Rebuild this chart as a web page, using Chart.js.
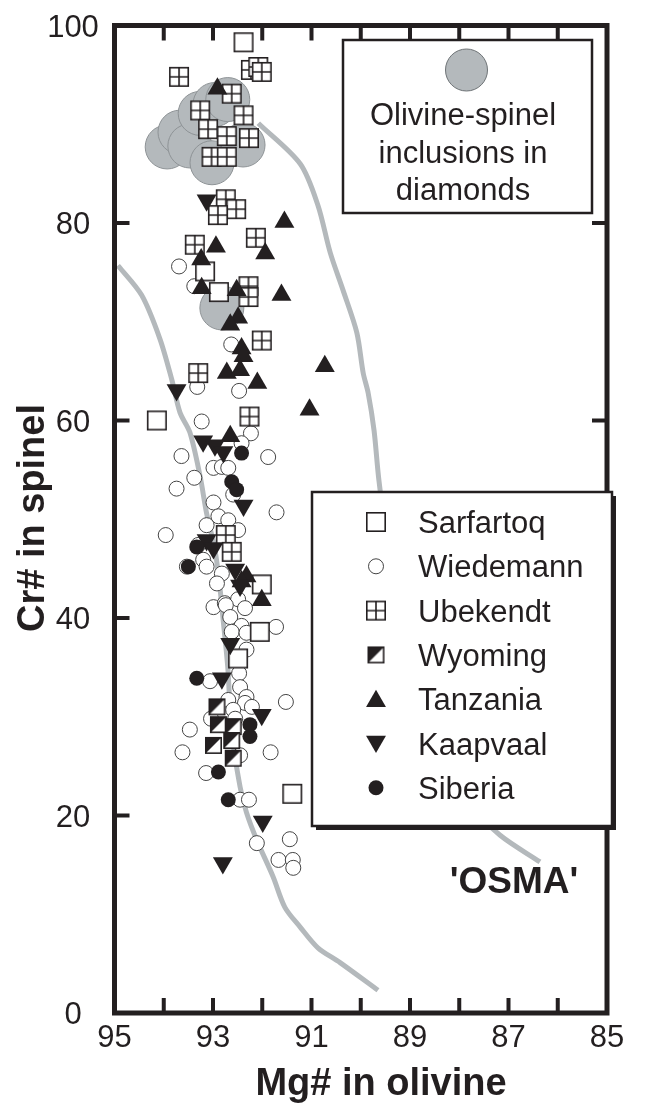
<!DOCTYPE html>
<html>
<head>
<meta charset="utf-8">
<title>Cr# in spinel vs Mg# in olivine</title>
<script src="https://cdn.jsdelivr.net/npm/chart.js"></script>
<style>
  html, body { margin: 0; padding: 0; background: #fff; }
  #wrap { width: 647px; height: 1106px; }
</style>
</head>
<body>
<div id="wrap"><canvas id="chart" width="647" height="1106"></canvas></div>
<script>
    // Values: [Mg# in olivine, Cr# in spinel]
    const sarfartoq = [
      [92.38, 98.3], [93.16, 75.1], [92.88, 73.0], [94.14, 60.0], [92.01, 43.4],
      [92.05, 38.6], [92.49, 35.9], [91.39, 22.2]
    ];
    const wiedemann = [
      [93.69, 75.6], [93.38, 73.6], [92.63, 67.7], [92.47, 63.0], [93.32, 63.4],
      [93.23, 59.9], [92.23, 58.7], [92.42, 57.7], [93.64, 56.4], [91.88, 56.3],
      [92.99, 55.2], [92.82, 55.3], [92.69, 55.2], [93.38, 54.2], [93.74, 53.1],
      [92.59, 52.5], [92.99, 51.7], [91.71, 50.7], [92.89, 50.3], [92.69, 49.9],
      [93.13, 49.4], [92.49, 48.9], [93.96, 48.4], [93.30, 47.4], [93.20, 45.9],
      [93.53, 45.2], [93.13, 45.2], [92.82, 44.5], [92.92, 43.5], [92.99, 41.1],
      [92.76, 41.5], [92.49, 41.9], [92.35, 41.0], [92.74, 41.3], [92.65, 40.1],
      [92.42, 39.2], [91.72, 39.1], [92.62, 38.6], [92.32, 38.5], [92.32, 36.8],
      [92.47, 34.4], [93.06, 33.6], [92.45, 33.0], [92.32, 32.0], [92.69, 31.7],
      [91.52, 31.5], [92.35, 31.4], [92.21, 31.0], [92.59, 30.7], [93.04, 29.8],
      [92.55, 29.8], [93.47, 28.7], [93.62, 26.4], [91.83, 26.4], [92.45, 26.1],
      [93.14, 24.3], [92.45, 21.6], [92.27, 21.6], [92.11, 17.2], [91.44, 17.6],
      [91.67, 15.5], [91.38, 15.5], [91.37, 14.7]
    ];
    const ubekendt = [
      [93.69, 94.8], [92.23, 95.5], [92.08, 95.8], [92.01, 95.3], [92.62, 93.1],
      [93.26, 91.4], [92.38, 90.9], [93.10, 89.5], [92.72, 88.8], [92.27, 88.6],
      [93.03, 86.7], [92.72, 86.7], [92.74, 82.4], [92.53, 81.4], [92.90, 80.8],
      [92.13, 78.5], [93.37, 77.8], [92.28, 73.6], [92.28, 72.5], [92.01, 68.1],
      [93.30, 64.8], [92.26, 60.4], [92.74, 48.4], [92.62, 46.7]
    ];
    const wyoming = [
      [92.92, 31.0], [92.89, 29.2], [92.59, 29.0], [92.99, 27.1], [92.62, 27.6],
      [92.59, 25.8]
    ];
    const tanzania = [
      [92.91, 93.6], [91.55, 80.1], [92.94, 77.6], [91.94, 76.9], [93.24, 76.3],
      [91.61, 72.7], [92.52, 73.2], [93.23, 73.4], [92.49, 70.4], [92.65, 69.7],
      [92.42, 67.3], [92.38, 66.5], [90.73, 65.5], [92.72, 64.8], [92.45, 65.1],
      [92.10, 63.8], [91.04, 61.1], [92.65, 58.4], [92.32, 44.2], [92.42, 43.7],
      [92.01, 41.8]
    ];
    const kaapvaal = [
      [93.13, 82.3], [93.74, 63.1], [93.20, 57.9], [92.96, 57.5], [92.79, 56.8],
      [92.38, 51.4], [93.13, 47.9], [92.99, 47.1], [92.55, 44.9], [92.45, 43.3],
      [92.65, 37.4], [92.82, 33.9], [92.01, 30.2], [91.99, 19.4], [92.80, 15.2]
    ];
    const siberia = [
      [92.42, 56.7], [92.62, 53.8], [92.52, 53.0], [93.33, 47.2], [93.50, 45.2],
      [93.33, 33.9], [92.25, 29.2], [92.25, 28.0], [92.89, 24.4], [92.69, 21.6]
    ];
    const inclusions = [
      [93.93, 87.7], [93.67, 89.2], [93.47, 87.8], [93.26, 91.1], [92.96, 92.0],
      [92.70, 92.5], [93.02, 86.1], [92.39, 87.9], [92.82, 71.4]
    ];
    // grey trend lines
    const leftCurve = [
      [94.93, 75.7], [94.45, 72.7], [94.08, 68.3], [93.84, 64.2], [93.67, 60.8],
      [93.47, 58.8], [93.26, 54.3], [93.13, 50.6], [92.96, 46.9], [92.86, 43.1],
      [92.80, 40.1], [92.70, 35.0], [92.62, 28.4], [92.45, 22.9], [92.32, 20.3],
      [92.11, 17.5], [91.78, 13.8], [91.54, 10.7], [91.23, 8.7], [90.87, 6.6],
      [90.42, 5.1], [89.65, 2.3]
    ];
    const osmaCurve = [
      [92.08, 90.1], [91.23, 86.0], [90.87, 81.8], [90.62, 77.0], [90.36, 73.2],
      [90.08, 68.9], [89.95, 64.8], [89.85, 62.8], [89.73, 59.0], [89.63, 53.9],
      [89.30, 41.8], [88.59, 27.6], [87.78, 21.1], [87.17, 18.0], [86.36, 15.3]
    ];
    const xTicks = [95, 93, 91, 89, 87, 85];
    const yTicks = [0, 20, 40, 60, 80, 100];
    const seriesNames = ['Sarfartoq', 'Wiedemann', 'Ubekendt', 'Wyoming', 'Tanzania', 'Kaapvaal', 'Siberia'];
    const inclusionText = ['Olivine-spinel', 'inclusions in', 'diamonds'];

    const INK = '#231f20';
    const GREY = '#b4b9bc';
    const FONT = '"Liberation Sans", Arial, Helvetica, sans-serif';

    function toPoints(arr) {
      return arr.map(p => ({ x: p[0], y: p[1] }));
    }

    // little canvases for the square markers
    function makeSquare(size, kind) {
      const c = document.createElement('canvas');
      c.width = size + 2;
      c.height = size + 2;
      const g = c.getContext('2d');
      const o = 1, s = size;
      g.fillStyle = '#fff';
      g.fillRect(o, o, s, s);
      if (kind === 'half') {
        g.fillStyle = INK;
        g.beginPath();
        g.moveTo(o, o);
        g.lineTo(o + s, o);
        g.lineTo(o, o + s);
        g.closePath();
        g.fill();
      }
      g.strokeStyle = INK;
      g.lineWidth = 1.6;
      if (kind === 'grid') {
        g.beginPath();
        g.moveTo(o + s / 2, o);
        g.lineTo(o + s / 2, o + s);
        g.moveTo(o, o + s / 2);
        g.lineTo(o + s, o + s / 2);
        g.stroke();
      }
      g.strokeRect(o + 0.8, o + 0.8, s - 1.6, s - 1.6);
      return c;
    }

    const openSquare = makeSquare(20, 'open');
    const gridSquare = makeSquare(20, 'grid');
    const halfSquare = makeSquare(17, 'half');

    function triangle(ctx, x, y, r, down) {
      const d = down ? -1 : 1;
      ctx.beginPath();
      ctx.moveTo(x, y - d * r);
      ctx.lineTo(x + r * Math.sqrt(3) / 2, y + d * r / 2);
      ctx.lineTo(x - r * Math.sqrt(3) / 2, y + d * r / 2);
      ctx.closePath();
      ctx.fillStyle = INK;
      ctx.fill();
    }

    function drawSymbol(ctx, i, x, y) {
      if (i === 0) ctx.drawImage(openSquare, x - openSquare.width / 2, y - openSquare.height / 2);
      else if (i === 1) {
        ctx.beginPath();
        ctx.arc(x, y, 7.5, 0, Math.PI * 2);
        ctx.fillStyle = '#fff';
        ctx.fill();
        ctx.lineWidth = 1;
        ctx.strokeStyle = '#444';
        ctx.stroke();
      }
      else if (i === 2) ctx.drawImage(gridSquare, x - gridSquare.width / 2, y - gridSquare.height / 2);
      else if (i === 3) ctx.drawImage(halfSquare, x - halfSquare.width / 2, y - halfSquare.height / 2);
      else if (i === 4) triangle(ctx, x, y + 2, 11.5, false);
      else if (i === 5) triangle(ctx, x, y - 2, 11.5, true);
      else {
        ctx.beginPath();
        ctx.arc(x, y, 7.5, 0, Math.PI * 2);
        ctx.fillStyle = INK;
        ctx.fill();
      }
    }

    // frame, inward ticks, labels, titles and the two legend boxes
    const framePlugin = {
      id: 'frame',
      afterDatasetsDraw(chart) {
        const { ctx, chartArea: a, scales } = chart;
        const xs = scales.x, ys = scales.y;
        ctx.save();

        ctx.strokeStyle = INK;
        ctx.lineWidth = 4;
        ctx.beginPath();
        xs.ticks.forEach(t => {
          const px = xs.getPixelForValue(t.value);
          ctx.moveTo(px, a.bottom); ctx.lineTo(px, a.bottom - 15);
          ctx.moveTo(px, a.top); ctx.lineTo(px, a.top + 15);
        });
        ys.ticks.forEach(t => {
          const py = ys.getPixelForValue(t.value);
          ctx.moveTo(a.left, py); ctx.lineTo(a.left + 15, py);
          ctx.moveTo(a.right, py); ctx.lineTo(a.right - 15, py);
        });
        ctx.stroke();
        ctx.lineWidth = 5;
        ctx.strokeRect(a.left, a.top, a.right - a.left, a.bottom - a.top);

        // tick labels
        ctx.fillStyle = INK;
        ctx.font = '31px ' + FONT;
        ctx.textAlign = 'center';
        ctx.textBaseline = 'alphabetic';
        xTicks.forEach(v => ctx.fillText(String(v), xs.getPixelForValue(v), a.bottom + 34));
        yTicks.forEach(v => ctx.fillText(String(v), 73, ys.getPixelForValue(v) + 11));

        // axis titles
        ctx.font = 'bold 38px ' + FONT;
        ctx.fillText('Mg# in olivine', 381, 1095);
        ctx.save();
        ctx.translate(44, 518);
        ctx.rotate(-Math.PI / 2);
        ctx.fillText('Cr# in spinel', 0, 0);
        ctx.restore();

        ctx.font = 'bold 37px ' + FONT;
        ctx.fillText("'OSMA'", 514, 893);

        // inclusion legend
        ctx.fillStyle = '#fff';
        ctx.fillRect(343, 40, 249, 173);
        ctx.lineWidth = 2.5;
        ctx.strokeStyle = INK;
        ctx.strokeRect(343, 40, 249, 173);
        ctx.beginPath();
        ctx.arc(466.5, 70, 21, 0, Math.PI * 2);
        ctx.fillStyle = GREY;
        ctx.fill();
        ctx.lineWidth = 1;
        ctx.strokeStyle = '#6e7376';
        ctx.stroke();
        ctx.fillStyle = INK;
        ctx.font = '31px ' + FONT;
        inclusionText.forEach((s, i) => ctx.fillText(s, 463, 125 + i * 37.5));

        // locality legend with a drop shadow
        ctx.fillStyle = INK;
        ctx.fillRect(316, 496, 300, 334);
        ctx.fillStyle = '#fff';
        ctx.fillRect(312, 492, 300, 334);
        ctx.lineWidth = 2.5;
        ctx.strokeStyle = INK;
        ctx.strokeRect(312, 492, 300, 334);
        ctx.textAlign = 'left';
        seriesNames.forEach((name, i) => {
          const base = 533 + i * 44.3;
          drawSymbol(ctx, i, 376, base - 11);
          ctx.fillStyle = INK;
          ctx.font = '31px ' + FONT;
          ctx.fillText(name, 418, base);
        });

        ctx.restore();
      }
    };

    const ctx = document.getElementById('chart').getContext('2d');

    new Chart(ctx, {
      type: 'scatter',
      data: {
        datasets: [
          {
            label: 'inclusions',
            data: toPoints(inclusions),
            order: 20,
            pointRadius: 22,
            pointBackgroundColor: GREY,
            pointBorderColor: '#8e9396',
            pointBorderWidth: 1
          },
          {
            label: 'left curve',
            data: toPoints(leftCurve),
            order: 19,
            showLine: true,
            pointRadius: 0,
            borderColor: GREY,
            borderWidth: 5,
            tension: 0.3
          },
          {
            label: 'OSMA',
            data: toPoints(osmaCurve),
            order: 18,
            showLine: true,
            pointRadius: 0,
            borderColor: GREY,
            borderWidth: 5,
            tension: 0.3
          },
          {
            label: 'Wiedemann',
            data: toPoints(wiedemann),
            order: 9,
            pointRadius: 7.5,
            pointBackgroundColor: '#fff',
            pointBorderColor: '#444',
            pointBorderWidth: 1
          },
          {
            label: 'Sarfartoq',
            data: toPoints(sarfartoq),
            order: 8,
            pointStyle: openSquare,
            pointRadius: 10
          },
          {
            label: 'Ubekendt',
            data: toPoints(ubekendt),
            order: 7,
            pointStyle: gridSquare,
            pointRadius: 10
          },
          {
            label: 'Wyoming',
            data: toPoints(wyoming),
            order: 6,
            pointStyle: halfSquare,
            pointRadius: 9
          },
          {
            label: 'Tanzania',
            data: toPoints(tanzania),
            order: 5,
            pointStyle: 'triangle',
            pointRadius: 11.5,
            pointBackgroundColor: INK,
            pointBorderWidth: 0
          },
          {
            label: 'Kaapvaal',
            data: toPoints(kaapvaal),
            order: 4,
            pointStyle: 'triangle',
            rotation: 180,
            pointRotation: 180,
            pointRadius: 11.5,
            pointBackgroundColor: INK,
            pointBorderWidth: 0
          },
          {
            label: 'Siberia',
            data: toPoints(siberia),
            order: 3,
            pointRadius: 7.5,
            pointBackgroundColor: INK,
            pointBorderColor: INK,
            pointBorderWidth: 0
          }
        ]
      },
      options: {
        responsive: false,
        devicePixelRatio: 1,
        animation: false,
        events: [],
        layout: { padding: { left: 0, right: 40, top: 25.5, bottom: 0 } },
        scales: {
          x: {
            type: 'linear',
            min: 85,
            max: 95,
            reverse: true,
            ticks: { display: false, stepSize: 1 },
            grid: { display: false },
            border: { display: false },
            afterFit: s => { s.height = 93; }
          },
          y: {
            type: 'linear',
            min: 0,
            max: 100,
            ticks: { display: false, stepSize: 20 },
            grid: { display: false },
            border: { display: false },
            afterFit: s => { s.width = 114.5; }
          }
        },
        plugins: {
          legend: { display: false },
          tooltip: { enabled: false }
        }
      },
      plugins: [framePlugin]
    });
</script>
</body>
</html>
